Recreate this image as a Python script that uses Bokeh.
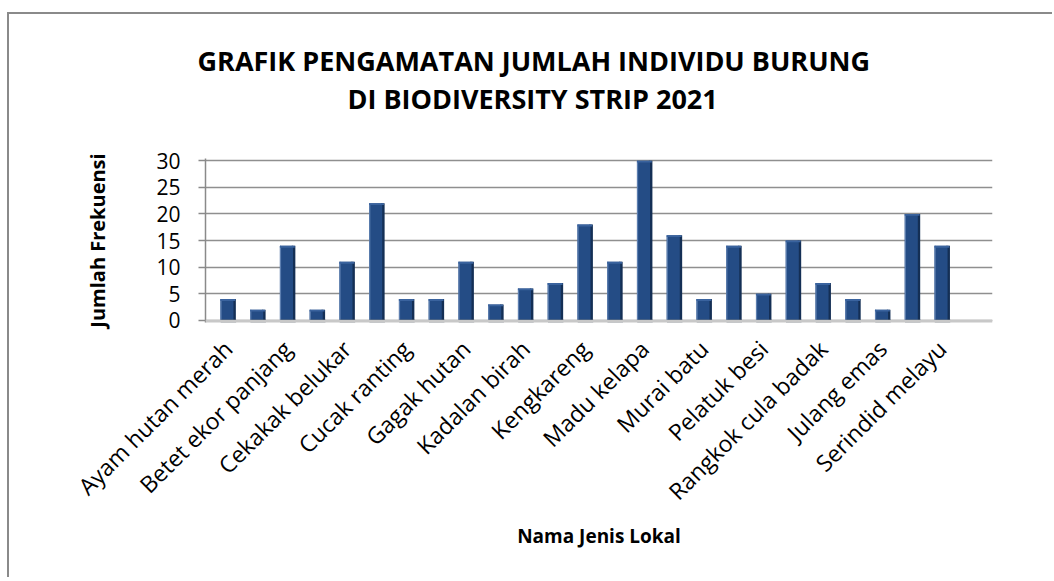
import math
from bokeh.plotting import figure
from bokeh.models import Range1d, FixedTicker, Span, ColumnDataSource, Title
from bokeh.transform import dodge
from bokeh.embed import file_html
from bokeh.resources import INLINE

# ---- data ----
positions = list(range(1, 27))
counts = [4, 2, 14, 2, 11, 22, 4, 4, 11, 3, 6, 7, 18, 11, 30, 16, 4, 14, 5, 15, 7, 4, 2, 20, 14, 0]
label_positions = [1, 3, 5, 7, 9, 11, 13, 15, 17, 19, 21, 23, 25]
species = ["Ayam hutan merah", "Betet ekor panjang", "Cekakak belukar", "Cucak ranting",
           "Gagak hutan", "Kadalan birah", "Kengkareng", "Madu kelapa", "Murai batu",
           "Pelatuk besi", "Rangkok cula badak", "Julang emas", "Serindid melayu"]
y_ticks = [0, 5, 10, 15, 20, 25, 30]
title_lines = ["GRAFIK PENGAMATAN JUMLAH INDIVIDU BURUNG", "DI BIODIVERSITY STRIP 2021"]
x_title = "Nama Jenis Lokal"
y_title = "Jumlah Frekuensi"

FONT = "Open Sans"

p = figure(output_backend="svg", toolbar_location=None,
           x_range=Range1d(0.25, 26.7), y_range=Range1d(-0.4, 30.4),
           frame_width=787, frame_height=164,
           min_border_left=196, min_border_top=144, min_border_right=60, min_border_bottom=255)
p.styles = {"border-left": "2px solid #8a8a8a", "border-top": "2px solid #8a8a8a",
            "margin-top": "12px", "margin-left": "7px"}
p.outline_line_color = None
p.background_fill_color = "white"
p.border_fill_color = "white"

# title (two lines) with a blank spacer between title and plot area
spacer = Title(text=" ", text_font=FONT, text_font_size="2px", standoff=37)
t2 = Title(text=title_lines[1], align="left", offset=142, text_font=FONT, text_font_size="27px",
           text_font_style="bold", text_color="black", standoff=0)
t1 = Title(text=title_lines[0], align="left", offset=-8, text_font=FONT, text_font_size="27px",
           text_font_style="bold", text_color="black", standoff=-2)
p.add_layout(spacer, "above")
p.add_layout(t2, "above")
p.add_layout(t1, "above")

# grid
p.xgrid.grid_line_color = None
p.ygrid.ticker = FixedTicker(ticks=y_ticks)
p.ygrid.grid_line_color = "#8f8f8f"
p.ygrid.grid_line_width = 1.6

# floor
p.add_layout(Span(location=-0.25, dimension="width", line_color="#c8c8c8", line_width=4))

nz = [i for i, c in enumerate(counts) if c > 0]
src_nz = ColumnDataSource(dict(x=[positions[i] for i in nz], top=[counts[i] for i in nz]))

# bar side (3D depth)
p.vbar(x=dodge("x", 0.21, range=p.x_range), top="top", bottom=0, width=0.12, source=src_nz,
       fill_color="#142f55", line_color=None)
# bar front
p.vbar(x=dodge("x", -0.03, range=p.x_range), top="top", bottom=0, width=0.44, source=src_nz,
       fill_color="#244c85", line_color=None)
# light left edge
p.vbar(x=dodge("x", -0.23, range=p.x_range), top="top", bottom=0, width=0.04, source=src_nz,
       fill_color="#5d7fb0", line_color=None)
# top cap highlight
p.vbar(x=dodge("x", 0.0, range=p.x_range), top="top", bottom=dodge("top", -0.35), width=0.5,
       source=src_nz, fill_color="#3a639e", line_color=None)
# dark footer
p.vbar(x=dodge("x", 0.02, range=p.x_range), top=0.1, bottom=-0.45, width=0.52, source=src_nz,
       fill_color="#0e1c30", line_color=None)

# y axis
ya = p.yaxis[0]
ya.ticker = FixedTicker(ticks=y_ticks)
ya.axis_line_color = "#8a8a8a"
ya.axis_line_width = 1.5
ya.major_tick_line_color = "#8a8a8a"
ya.major_tick_line_width = 1.5
ya.major_tick_out = 7
ya.major_tick_in = 0
ya.minor_tick_line_color = None
ya.major_label_text_font = FONT
ya.major_label_text_font_size = "21px"
ya.major_label_text_color = "black"
ya.major_label_standoff = 18
ya.axis_label = y_title
ya.axis_label_text_font = FONT
ya.axis_label_text_font_size = "20px"
ya.axis_label_text_font_style = "bold"
ya.axis_label_text_color = "black"
ya.axis_label_standoff = 42

# x axis
xa = p.xaxis[0]
xa.ticker = FixedTicker(ticks=label_positions)
xa.major_label_overrides = {pos: name for pos, name in zip(label_positions, species)}
xa.major_label_orientation = math.pi / 4
xa.axis_line_color = None
xa.major_tick_line_color = None
xa.minor_tick_line_color = None
xa.major_label_text_font = FONT
xa.major_label_text_font_size = "23px"
xa.major_label_text_color = "black"
xa.major_label_standoff = 16
xa.axis_label = x_title
xa.axis_label_text_font = FONT
xa.axis_label_text_font_size = "19px"
xa.axis_label_text_font_style = "bold"
xa.axis_label_text_color = "black"
xa.axis_label_standoff = 2

open("out.html", "w").write(file_html(p, INLINE))
